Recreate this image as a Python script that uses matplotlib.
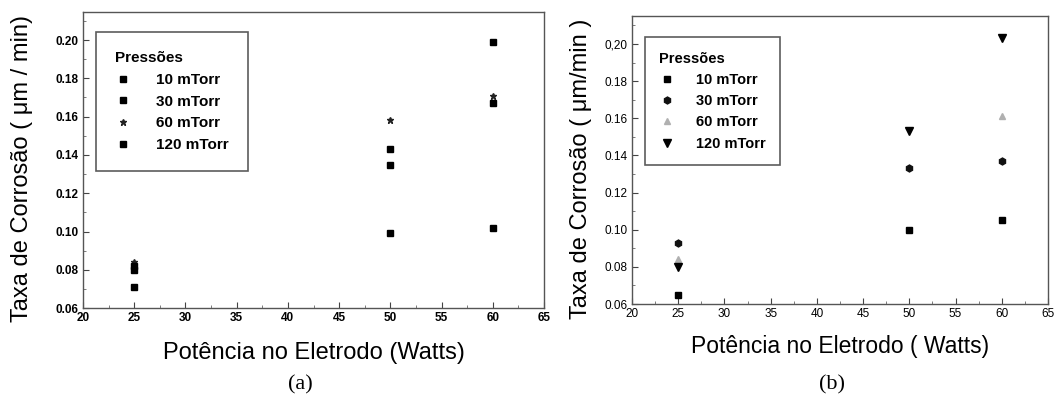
import numpy as np
import matplotlib
matplotlib.use("Agg")
import matplotlib.pyplot as plt
from matplotlib.ticker import MultipleLocator

# ---------------- data ----------------
power = [25, 50, 60]
series_labels = ["10 mTorr", "30 mTorr", "60 mTorr", "120 mTorr"]

# panel (a)
a_10 = [0.071, 0.099, 0.102]
a_30 = [0.080, 0.135, 0.167]
a_60 = [0.084, 0.158, 0.171]
a_120 = [0.082, 0.143, 0.199]

# panel (b)
b_10 = [0.065, 0.100, 0.105]
b_30 = [0.093, 0.133, 0.137]
b_60 = [0.084, np.nan, 0.161]
b_120 = [0.080, 0.153, 0.203]

yticks = [0.06, 0.08, 0.10, 0.12, 0.14, 0.16, 0.18, 0.20]
ytick_labels_a = ["0.06", "0.08", "0.10", "0.12", "0.14", "0.16", "0.18", "0.20"]
ytick_labels_b = ["0.06", "0.08", "0.10", "0.12", "0.14", "0.16", "0.18", "0,20"]
xticks = [20, 25, 30, 35, 40, 45, 50, 55, 60, 65]

FONT = ["Liberation Sans", "DejaVu Sans"]
plt.rcParams['font.family'] = FONT

fig = plt.figure(figsize=(10.6, 3.94), dpi=100)

def style_axes(ax, ylabels, bold):
    ax.set_xlim(20, 65)
    ax.set_xticks(xticks)
    ax.xaxis.set_minor_locator(MultipleLocator(2.5))
    ax.set_yticks(yticks)
    ax.set_yticklabels(ylabels)
    ax.yaxis.set_minor_locator(MultipleLocator(0.01))
    ax.tick_params(which='major', direction='in', length=4, width=0.8,
                   labelsize=8.5, pad=3, color='#444444')
    ax.tick_params(which='minor', direction='in', length=2, width=0.6, color='#666666')
    for lab in ax.get_xticklabels() + ax.get_yticklabels():
        lab.set_fontweight('bold' if bold else 'normal')
    for s in ax.spines.values():
        s.set_linewidth(1.0)
        s.set_color('#555555')

# ---------------- panel (a) ----------------
axa = fig.add_axes([0.0783, 0.218, 0.435, 0.7513])
axa.set_ylim(0.06, 0.2146)
ms = 4.5
axa.plot(power, a_10, ls='none', marker='s', ms=ms, color='black', label=series_labels[0])
axa.plot(power, a_30, ls='none', marker='s', ms=ms - 0.8, color='black', label=series_labels[1])
axa.plot(power, a_60, ls='none', marker='*', ms=ms, color='#222222', label=series_labels[2])
axa.plot(power, a_120, ls='none', marker='s', ms=ms, color='black', label=series_labels[3])
style_axes(axa, ytick_labels_a, True)
axa.set_ylabel("Taxa de Corrosão ( μm / min)", fontsize=17)
axa.yaxis.set_label_coords(-0.108, 0.47)
axa.set_xlabel("Potência no Eletrodo (Watts)", fontsize=17, labelpad=13)
leg = axa.legend(title="Pressões", loc='upper left', bbox_to_anchor=(0.028, 0.932),
                 frameon=True, fancybox=False, edgecolor='#333333',
                 prop={'size': 11, 'weight': 'bold'}, handletextpad=1.7,
                 borderpad=1.25, labelspacing=0.5, handlelength=1.0,
                 borderaxespad=0)
leg.get_title().set_fontweight('bold')
leg.get_title().set_fontsize(11)
leg._legend_box.align = "left"
leg.get_frame().set_linewidth(1.2)

# ---------------- panel (b) ----------------
axb = fig.add_axes([0.5962, 0.2284, 0.3925, 0.731])
axb.set_ylim(0.06, 0.2151)
axb.plot(power, b_10, ls='none', marker='s', ms=5, color='black', label=series_labels[0])
axb.plot(power, b_30, ls='none', marker='h', ms=5, color='#111111', label=series_labels[1])
axb.plot(power, b_60, ls='none', marker='^', ms=4, color='#b0b0b0', label=series_labels[2])
axb.plot(power, b_120, ls='none', marker='v', ms=6, color='black', label=series_labels[3])
style_axes(axb, ytick_labels_b, False)
axb.set_ylabel("Taxa de Corrosão ( μm/min )", fontsize=17)
axb.yaxis.set_label_coords(-0.097, 0.47)
axb.set_xlabel("Potência no Eletrodo ( Watts)", fontsize=16.5, labelpad=11)
legb = axb.legend(title="Pressões", loc='upper left', bbox_to_anchor=(0.031, 0.927),
                  frameon=True, fancybox=False, edgecolor='#333333',
                  prop={'size': 10.5, 'weight': 'bold'}, handletextpad=1.5,
                  borderpad=1.0, labelspacing=0.5, handlelength=1.0,
                  borderaxespad=0)
legb.get_title().set_fontweight('bold')
legb.get_title().set_fontsize(10.5)
legb._legend_box.align = "left"
legb.get_frame().set_linewidth(1.2)

fig.text(0.283, 0.012, "(a)", fontsize=16, family=["Liberation Serif", "DejaVu Serif"], ha='center')
fig.text(0.785, 0.012, "(b)", fontsize=16, family=["Liberation Serif", "DejaVu Serif"], ha='center')

fig.savefig("out.png", dpi=100)
